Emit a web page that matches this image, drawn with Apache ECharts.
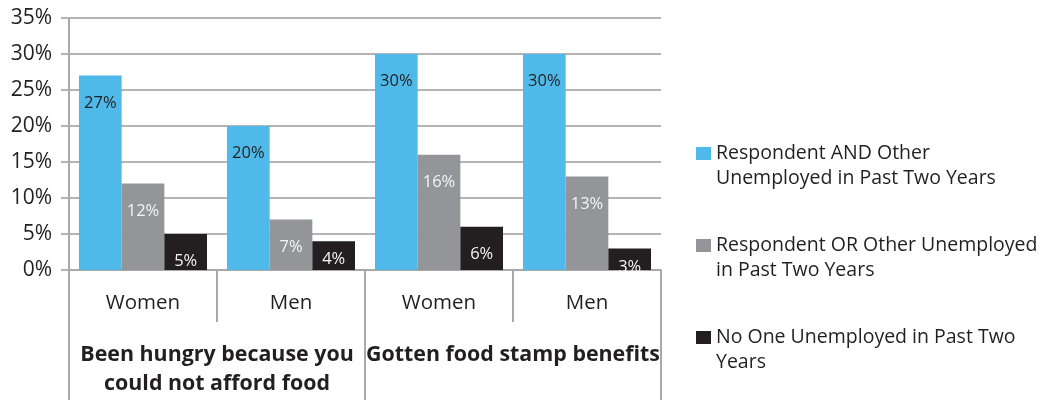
<!DOCTYPE html>
<html>
<head>
<meta charset="utf-8">
<title>Hardship by unemployment in household</title>
<script src="https://cdn.jsdelivr.net/npm/echarts@6/dist/echarts.min.js"></script>
<style>
  html, body { margin: 0; padding: 0; background: #ffffff; }
  #chart { width: 1042px; height: 400px; }
</style>
</head>
<body>
<div id="chart"></div>
<script>
// Inner categories (sex) and outer categories (hardship measure)
const subCategories = ['Women', 'Men', 'Women', 'Men'];
const groupCategories = ['Been hungry because you\ncould not afford food', 'Gotten food stamp benefits'];

// Series names and the wrapped form shown in the legend
const seriesNames = [
  'Respondent AND Other Unemployed in Past Two Years',
  'Respondent OR Other Unemployed in Past Two Years',
  'No One Unemployed in Past Two Years'
];
const legendLabels = [
  'Respondent AND Other\nUnemployed in Past Two Years',
  'Respondent OR Other Unemployed\nin Past Two Years',
  'No One Unemployed in Past Two\nYears'
];

// Percent of respondents, per sub-category
const bothUnemployed = [27, 20, 30, 30];
const eitherUnemployed = [12, 7, 16, 13];
const noneUnemployed = [5, 4, 6, 3];

// Y axis ticks (percent)
const yMin = 0;
const yMax = 35;
const yStep = 5;

const seriesValues = [bothUnemployed, eitherUnemployed, noneUnemployed];
const barColors = ['#4fbae9', '#939598', '#231f20'];
const labelColors = ['#231f20', '#f4f4f4', '#f4f4f4'];

const FONT = 'Open Sans';
const TEXT = '#231f20';
const GRID = '#b4b4b4';
const AXIS = '#a9a9a9';

const chart = echarts.init(document.getElementById('chart'), null, { renderer: 'canvas' });

const series = seriesValues.map((vals, i) => ({
  name: seriesNames[i],
  type: 'bar',
  xAxisIndex: 0,
  barGap: 0,
  barCategoryGap: '13.5%',
  itemStyle: { color: barColors[i] },
  data: vals.map(v => ({
    value: v,
    // short bars keep their label inside the bar
    label: { distance: v >= 5 ? 19 : 10 }
  })),
  label: {
    show: true,
    position: 'insideTop',
    formatter: p => p.value + '%',
    color: labelColors[i],
    fontFamily: FONT,
    fontSize: 16.5
  }
}));

chart.setOption({
  animation: false,
  backgroundColor: '#ffffff',
  textStyle: { fontFamily: FONT, color: TEXT },
  grid: { left: 69, right: 381, top: 18, bottom: 130, containLabel: false },
  legend: {
    orient: 'vertical',
    left: 696,
    top: 116,
    height: 284,
    padding: 0,
    itemGap: 17,
    itemWidth: 15,
    itemHeight: 13,
    icon: 'rect',
    selectedMode: false,
    data: seriesNames,
    // a leading blank line lines the first text row up with the swatch
    formatter: name => '\n' + legendLabels[seriesNames.indexOf(name)],
    textStyle: {
      fontFamily: FONT,
      fontSize: 19.5,
      color: TEXT,
      lineHeight: 25
    }
  },
  xAxis: [
    {
      type: 'category',
      data: subCategories,
      position: 'bottom',
      axisLine: { show: true, lineStyle: { color: AXIS, width: 2 } },
      axisTick: { show: true, length: 52, lineStyle: { color: AXIS, width: 2 } },
      axisLabel: { margin: 23, fontFamily: FONT, fontSize: 20.5, color: TEXT, interval: 0 },
      splitLine: { show: false }
    },
    {
      type: 'category',
      data: groupCategories,
      position: 'bottom',
      offset: 0,
      axisLine: { show: false },
      axisTick: { show: true, length: 130, lineStyle: { color: AXIS, width: 2 } },
      axisLabel: {
        margin: 70,
        interval: 0,
        fontFamily: FONT,
        fontSize: 21.4,
        fontWeight: 'bold',
        lineHeight: 29.5,
        color: TEXT
      },
      splitLine: { show: false }
    }
  ],
  yAxis: {
    type: 'value',
    min: yMin,
    max: yMax,
    interval: yStep,
    axisLine: { show: true, lineStyle: { color: AXIS, width: 2 } },
    axisTick: { show: true, length: 8, lineStyle: { color: GRID, width: 2 } },
    axisLabel: { formatter: '{value}%', margin: 17, fontFamily: FONT, fontSize: 21, color: TEXT },
    splitLine: { show: true, lineStyle: { color: GRID, width: 2 } }
  },
  series: series
});
</script>
</body>
</html>
